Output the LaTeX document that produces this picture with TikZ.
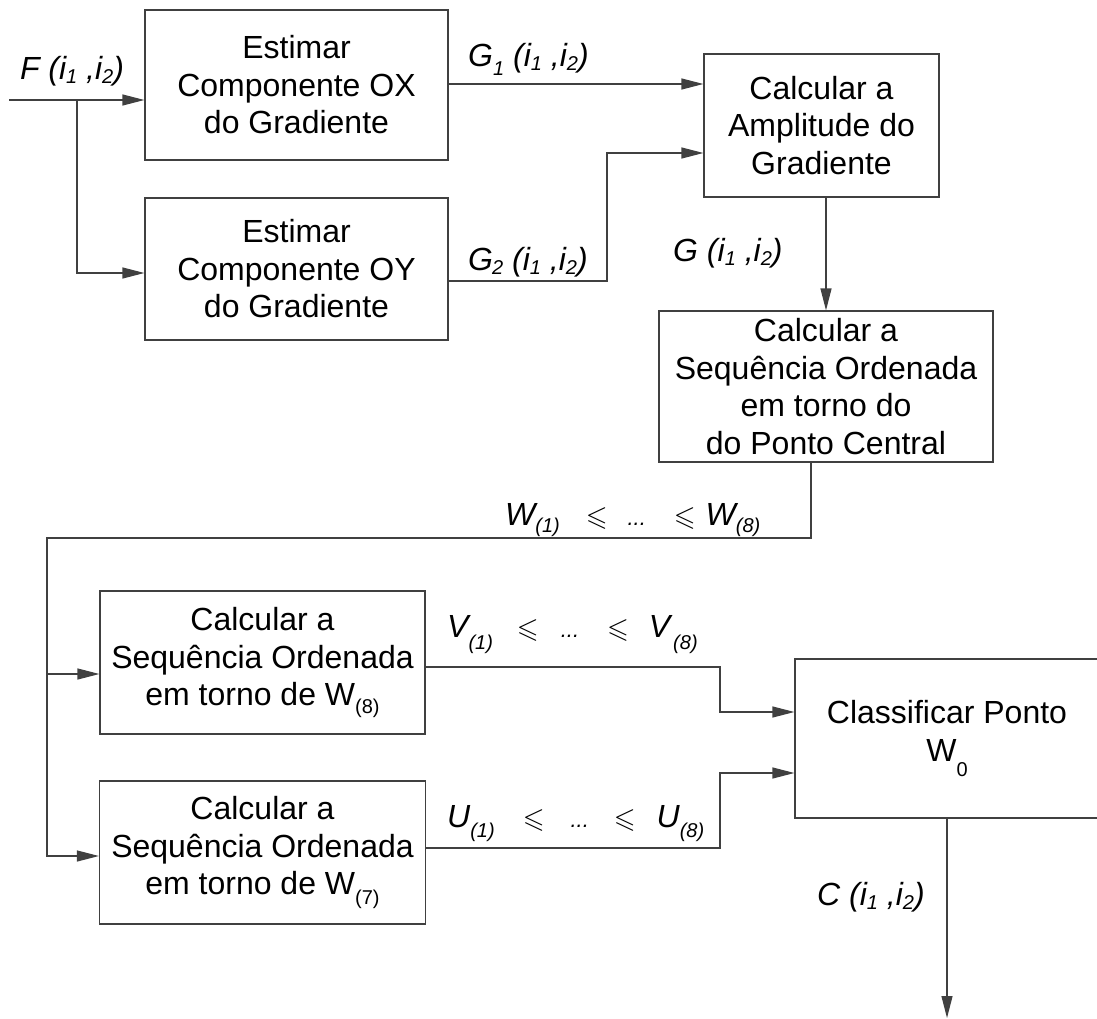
\documentclass[tikz,border=0pt]{standalone}
\usepackage{amssymb}
\usepackage{fontspec}
\setmainfont{Liberation Sans}
\usetikzlibrary{arrows.meta}
\definecolor{lineGray}{HTML}{404040}
\newcommand{\boxfont}{\fontsize{32}{37.5}\selectfont}
\newcommand{\lblfont}{\fontsize{32}{36}\selectfont\itshape}
\newcommand{\sbs}[2][4pt]{\raisebox{-#1}{\fontsize{20}{20}\selectfont #2}}
\newcommand{\leqs}{{\fontsize{28}{28}\selectfont$\leqslant$}}
\newcommand{\dts}{{\fontsize{22}{22}\selectfont...}}

\begin{document}
\begin{tikzpicture}[x=1pt, y=-1pt,
    blk/.style={draw=lineGray, line width=1.2pt, align=center, font=\boxfont, inner sep=0pt},
    wire/.style={draw=lineGray, line width=1.2pt},
    flow/.style={wire, -{Triangle[length=22pt, width=11pt]}},
    lbl/.style={font=\lblfont, inner sep=0pt, anchor=base west}]
    \useasboundingbox (0,0) rectangle (1097,1019);

    % Blocks
    \node[blk, minimum width=303pt, minimum height=150pt] (ox) at (296.5,85) {Estimar\\Componente OX\\do Gradiente};
    \node[blk, minimum width=303pt, minimum height=142pt] (oy) at (296.5,269) {Estimar\\Componente OY\\do Gradiente};
    \node[blk, minimum width=235pt, minimum height=143pt] (amp) at (821.5,125.5) {Calcular a\\Amplitude do\\Gradiente};
    \node[blk, minimum width=334pt, minimum height=151pt] (seq) at (826,386.5) {Calcular a\\Sequência Ordenada\\em torno do\\do Ponto Central};
    \node[blk, minimum width=325pt, minimum height=143pt] (w8) at (262.5,662.5) {Calcular a\\Sequência Ordenada\\em torno de W\sbs[8pt]{(8)}};
    \node[blk, minimum width=326pt, minimum height=143pt] (w7) at (262.5,852.5) {Calcular a\\Sequência Ordenada\\em torno de W\sbs[10pt]{(7)}};
    \node[blk, minimum width=304pt, minimum height=159pt] (cls) at (947,738.5) {Classificar Ponto\\W\sbs[15pt]{0}};

    % Bends
    \coordinate (fin) at (9,100);
    \coordinate (fbr) at (77,100);
    \coordinate (oyy) at (0,273);
    \coordinate (g1y) at (0,84);
    \coordinate (g2y) at (0,281);
    \coordinate (g2k) at (607,153);
    \coordinate (wout) at (811,538);
    \coordinate (wleft) at (47,538);
    \coordinate (w8y) at (0,674);
    \coordinate (w7y) at (0,856);
    \coordinate (vout) at (0,667);
    \coordinate (vk) at (720,712);
    \coordinate (uout) at (0,848);
    \coordinate (uk) at (720,773);
    \coordinate (cout) at (947,1018);

    % Connectors
    \draw[flow] (fin) -- (fin -| ox.west);
    \draw[flow] (fbr) |- (oy.west |- oyy);
    \draw[flow] (ox.east |- g1y) -- (amp.west |- g1y);
    \draw[flow] (oy.east |- g2y) -| (g2k) -- (g2k -| amp.west);
    \draw[flow] (amp.south -| seq.north) -- (seq.north);
    \draw[flow] (seq.south -| wout) -- (wout) -- (wleft) |- (w7.west |- w7y);
    \draw[flow] (wleft |- w8y) -- (w8.west |- w8y);
    \draw[flow] (w8.east |- vout) -| (vk) -- (vk -| cls.west);
    \draw[flow] (w7.east |- uout) -| (uk) -- (uk -| cls.west);
    \draw[flow] (cls.south) -- (cout);

    % Labels
    \node[lbl, anchor=base] (flbl) at (72,80) {F (i\sbs{1} ,i\sbs{2})};
    \node[lbl] (g1lbl) at (468,67) {G\sbs[9pt]{1} (i\sbs{1} ,i\sbs{2})};
    \node[lbl] (g2lbl) at (468,270) {G\kern-1pt\sbs{2} (i\sbs{1} ,i\sbs{2})};
    \node[lbl] (glbl) at (673,261) {G (i\sbs{1} ,i\sbs{2})};
    \node[lbl] (wlbl) at (505,525) {W\sbs[7pt]{(1)}\hspace{26pt}\leqs\hspace{20pt}\dts\hspace{28pt}\leqs\hspace{10pt}W\sbs[7pt]{(8)}};
    \node[lbl] (vlbl) at (447,637) {V\sbs[12pt]{(1)}\hspace{24pt}\leqs\hspace{22pt}\dts\hspace{28pt}\leqs\hspace{20pt}V\hspace{3pt}\sbs[12pt]{(8)}};
    \node[lbl] (ulbl) at (447,827) {U\sbs[10pt]{(1)}\hspace{28pt}\leqs\hspace{26pt}\dts\hspace{25pt}\leqs\hspace{21pt}U\sbs[10pt]{(8)}};
    \node[lbl] (clbl) at (817,905) {C (i\sbs{1} ,i\sbs{2})};
\end{tikzpicture}
\end{document}
